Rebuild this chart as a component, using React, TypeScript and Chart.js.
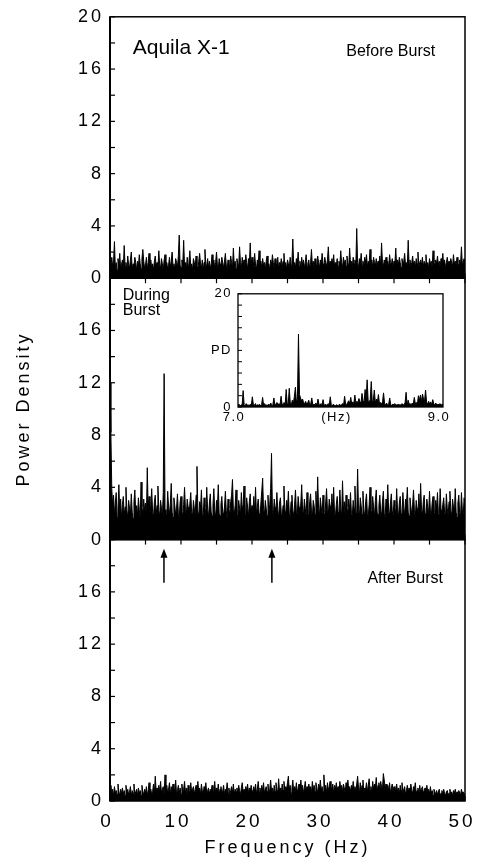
import React, { useEffect, useRef } from 'react';
import { Chart, registerables } from 'chart.js';

Chart.register(...registerables);

// ---------- data: power density, one value every FREQ_STEP Hz from 0 to 50 Hz ----------
const FREQ_STEP = 0.125;

const BEFORE_BURST = [
  1.1, 0.7, 1.6, 0.9, 1.3, 2.8, 0.8, 1.2, 0.6, 1.5, 1.0, 1.9, 0.7, 1.1, 1.4, 0.8,
  2.5, 0.9, 1.2, 0.6, 1.7, 1.0, 0.8, 1.4, 2.0, 0.7, 1.1, 0.9, 1.6, 1.2, 0.6, 1.3,
  0.9, 1.8, 1.1, 0.7, 1.5, 2.2, 1.3, 0.8, 1.0, 1.6, 0.7, 1.2, 1.9, 0.9, 1.4, 0.8,
  1.1, 0.6, 1.3, 1.7, 0.9, 1.2, 0.7, 2.1, 1.0, 0.8, 1.5, 1.1, 0.6, 1.4, 1.8, 0.9,
  1.2, 0.7, 1.0, 1.6, 0.8, 1.3, 2.0, 0.9, 1.1, 0.7, 1.5, 1.2, 0.8, 1.7, 3.3, 1.0,
  0.8, 1.4, 1.1, 2.9, 0.9, 1.2, 0.7, 1.6, 1.0, 1.3, 2.1, 0.8, 1.1, 0.6, 1.5, 1.2,
  0.9, 1.7, 1.0, 0.7, 1.3, 1.9, 1.1, 0.8, 1.4, 0.6, 1.2, 2.2, 0.9, 1.0, 1.5, 0.8,
  1.3, 0.7, 1.1, 1.8, 0.9, 1.4, 0.8, 1.2, 2.0, 1.0, 0.7, 1.5, 1.1, 0.9, 1.6, 1.2,
  0.8, 1.3, 1.9, 1.0, 0.7, 1.4, 1.1, 0.9, 1.7, 1.2, 0.8, 2.3, 1.0, 1.3, 0.7, 1.5,
  1.1, 0.9, 2.4, 1.2, 0.8, 1.6, 1.0, 1.4, 0.9, 1.8, 1.2, 0.7, 1.5, 1.1, 2.7, 1.0,
  1.6, 0.8, 1.2, 1.9, 1.0, 0.7, 1.4, 1.1, 2.1, 0.9, 1.3, 0.8, 1.5, 1.0, 1.2, 0.7,
  1.3, 1.7, 0.9, 1.1, 0.6, 1.4, 1.0, 1.8, 1.2, 0.8, 1.5, 0.9, 1.1, 1.6, 0.7, 1.2,
  1.0, 1.5, 0.8, 1.3, 1.9, 0.9, 1.2, 0.7, 1.4, 1.1, 0.8, 1.6, 1.0, 1.3, 3.0, 0.9,
  1.2, 0.8, 1.5, 1.1, 2.0, 0.9, 1.3, 0.7, 1.6, 1.0, 1.4, 0.8, 1.2, 1.8, 0.9, 1.1,
  1.4, 0.7, 1.2, 2.2, 1.0, 1.3, 0.8, 1.5, 1.1, 0.9, 1.7, 1.2, 0.8, 1.4, 1.0, 1.9,
  1.1, 0.8, 1.6, 1.2, 0.9, 1.4, 2.4, 1.0, 1.3, 0.7, 1.5, 1.1, 1.8, 0.9, 1.2, 1.0,
  1.5, 0.9, 1.3, 1.0, 2.1, 1.2, 0.8, 1.6, 1.1, 1.4, 0.9, 1.7, 1.2, 0.8, 2.3, 1.1,
  1.3, 0.9, 1.6, 1.1, 1.4, 1.0, 3.8, 1.2, 0.8, 1.5, 1.1, 1.9, 1.0, 1.3, 0.9, 1.6,
  1.2, 1.8, 0.9, 1.3, 1.1, 2.2, 1.0, 1.4, 0.8, 1.6, 1.2, 1.0, 1.5, 0.9, 1.3, 1.1,
  1.7, 1.0, 2.7, 1.2, 0.9, 1.4, 1.1, 1.6, 1.0, 1.3, 0.8, 1.8, 1.2, 1.0, 1.5, 0.9,
  1.3, 1.1, 2.3, 0.9, 1.4, 1.0, 1.6, 1.2, 0.8, 1.5, 1.1, 1.3, 1.9, 1.0, 1.2, 0.9,
  2.9, 1.1, 1.4, 0.9, 1.2, 1.7, 1.0, 1.3, 0.8, 1.5, 1.1, 2.0, 0.9, 1.2, 1.4, 1.0,
  1.6, 0.9, 1.3, 1.1, 1.8, 1.0, 1.2, 0.8, 1.5, 1.1, 1.3, 0.9, 2.1, 1.2, 1.0, 1.4,
  1.1, 1.7, 1.0, 1.3, 0.9, 1.5, 1.2, 1.9, 1.0, 1.4, 0.8, 1.2, 1.6, 1.1, 1.3, 1.0,
  1.5, 1.2, 0.9, 1.8, 1.1, 1.3, 1.0, 1.6, 1.2, 0.9, 1.4, 1.1, 2.4, 1.0, 1.3, 1.5,
  1.2,
];

const DURING_BURST = [
  12.0, 8.2, 3.9, 2.6, 3.4, 1.9, 2.8, 3.6, 1.7, 2.3, 4.2, 2.0, 3.1, 1.6, 2.7, 3.3,
  1.8, 2.5, 4.0, 2.2, 1.7, 3.0, 2.4, 1.9, 3.5, 2.1, 1.6, 2.9, 3.8, 2.0, 2.6, 1.8,
  3.2, 2.3, 1.7, 4.4, 2.5, 1.9, 3.1, 2.2, 2.8, 1.6, 5.5, 2.4, 3.3, 1.8, 2.6, 3.9,
  2.1, 1.7, 2.9, 3.4, 1.9, 2.6, 4.1, 2.2, 1.8, 3.0, 2.4, 1.7, 3.6, 12.7, 2.3, 2.0,
  1.8, 3.7, 2.5, 1.9, 2.8, 4.3, 2.1, 1.7, 3.2, 2.6, 1.9, 2.4, 3.5, 2.0, 1.6, 2.9,
  3.3, 2.2, 1.8, 2.7, 4.0, 2.3, 1.9, 3.1, 2.5, 1.7, 2.8, 3.6, 2.1, 1.8, 3.0, 2.4,
  1.9, 3.4, 5.6, 2.2, 1.7, 2.9, 2.4, 3.8, 2.0, 1.8, 3.2, 2.5, 1.9, 4.0, 2.3, 1.7,
  2.8, 3.5, 2.1, 1.8, 2.6, 3.9, 2.2, 1.7, 3.0, 2.4, 4.2, 2.0, 1.8, 2.7, 3.3, 2.1,
  1.9, 2.5, 3.7, 2.2, 1.6, 3.1, 2.4, 1.8, 2.9, 3.4, 4.6, 2.3, 1.9, 2.6, 3.8, 2.0,
  1.7, 3.0, 2.4, 1.9, 3.6, 2.2, 2.7, 4.1, 2.0, 1.8, 3.2, 2.5, 1.7, 2.9, 3.5, 2.1,
  2.6, 1.8, 3.3, 2.2, 4.0, 1.9, 2.5, 3.1, 2.0, 1.7, 2.8, 3.7, 4.7, 2.3, 1.9, 3.0,
  2.4, 1.8, 3.4, 2.1, 2.7, 3.9, 6.6, 2.2, 1.8, 3.1, 2.5, 1.9, 3.6, 2.3, 1.7, 2.8,
  3.2, 2.0, 1.8, 2.6, 4.1, 2.3, 1.9, 3.0, 2.4, 3.7, 2.0, 1.7, 2.9, 3.4, 2.2, 1.8,
  2.7, 3.8, 2.1, 1.9, 3.3, 2.5, 1.7, 2.8, 4.2, 2.2, 1.9, 3.1, 2.4, 1.8, 3.6, 2.0,
  1.8, 2.9, 3.5, 2.2, 1.7, 3.0, 2.6, 1.9, 3.7, 2.1, 4.8, 2.4, 1.8, 3.2, 2.5, 1.9,
  3.4, 2.1, 1.8, 2.8, 3.9, 2.3, 1.9, 3.1, 2.6, 1.7, 3.5, 2.2, 4.0, 2.0, 1.8, 2.7,
  3.3, 2.1, 1.9, 3.8, 2.4, 1.7, 4.5, 2.2, 2.9, 1.8, 3.4, 2.5, 1.9, 3.1, 2.2, 3.6,
  2.0, 1.8, 3.0, 2.4, 4.1, 2.1, 1.9, 5.4, 2.3, 1.7, 3.2, 2.6, 1.9, 3.7, 2.2, 1.8,
  2.9, 3.5, 2.0, 1.8, 2.7, 4.0, 2.3, 1.9, 3.3, 2.5, 1.7, 3.0, 3.8, 2.1, 1.9, 2.6,
  3.4, 2.2, 1.8, 2.9, 3.7, 2.0, 1.7, 3.1, 2.4, 4.2, 2.1, 1.9, 2.8, 3.5, 2.2, 1.8,
  3.0, 2.5, 1.9, 3.9, 2.2, 1.7, 2.8, 3.3, 2.0, 1.8, 3.6, 2.4, 1.9, 3.1, 2.6, 4.0,
  2.1, 1.8, 3.2, 2.5, 1.9, 2.7, 3.8, 2.2, 1.7, 3.0, 2.4, 1.9, 3.5, 2.1, 4.3, 2.3,
  1.8, 2.9, 3.4, 2.0, 1.7, 3.1, 2.5, 1.9, 3.7, 2.2, 1.8, 2.8, 3.3, 2.1, 1.9, 3.0,
  2.4, 3.6, 2.0, 1.8, 3.9, 2.3, 1.9, 2.7, 3.2, 2.1, 1.7, 3.5, 2.4, 1.9, 2.9, 3.7,
  2.2, 1.8, 3.1, 2.5, 1.9, 3.9, 2.1, 1.7, 2.8, 3.4, 2.0, 1.8, 3.6, 2.3, 1.9, 3.2,
  2.6,
];

const AFTER_BURST = [
  0.7, 1.2, 0.5, 0.9, 0.4, 1.1, 0.6, 0.8, 0.5, 1.3, 0.7, 0.4, 0.9, 0.6, 1.0, 0.5,
  0.8, 0.4, 1.2, 0.6, 0.9, 0.5, 0.7, 1.1, 0.4, 0.8, 0.6, 1.3, 0.5, 0.7, 0.9, 0.4,
  1.0, 0.6, 0.8, 0.4, 1.2, 0.7, 0.5, 0.9, 0.6, 1.1, 0.4, 0.8, 1.4, 0.6, 0.9, 0.5,
  0.7, 1.3, 0.6, 1.9, 0.8, 1.0, 0.5, 1.2, 0.7, 1.5, 0.6, 0.9, 1.1, 0.5, 2.0, 0.8,
  1.2, 0.6, 0.9, 1.4, 0.5, 1.1, 0.7, 1.3, 0.6, 0.9, 1.6, 0.5, 0.8, 1.2, 0.6, 1.0,
  0.5, 1.3, 0.7, 0.9, 1.5, 0.6, 1.0, 0.4, 1.2, 0.8, 0.6, 1.4, 0.7, 0.9, 1.1, 0.5,
  0.9, 1.2, 0.6, 1.5, 0.7, 1.0, 0.5, 1.3, 0.8, 0.6, 1.1, 0.9, 1.4, 0.6, 0.8, 1.0,
  0.5, 0.9, 0.7, 1.2, 0.4, 0.8, 1.5, 0.6, 1.0, 0.7, 1.3, 0.5, 0.9, 1.1, 0.6, 0.8,
  1.2, 0.5, 0.9, 0.7, 1.4, 0.6, 1.0, 0.4, 0.8, 1.1, 0.6, 1.3, 0.5, 0.9, 0.7, 1.0,
  0.6, 1.2, 0.8, 0.5, 1.0, 1.4, 0.7, 0.9, 0.5, 1.1, 0.8, 1.3, 0.6, 1.0, 0.7, 1.2,
  0.8, 0.5, 1.1, 0.7, 1.3, 0.6, 0.9, 1.5, 0.7, 1.0, 0.5, 1.2, 0.8, 1.4, 0.6, 0.9,
  1.1, 0.7, 1.3, 0.6, 0.9, 1.6, 0.8, 1.0, 0.5, 1.2, 0.7, 1.4, 0.9, 0.6, 1.7, 0.8,
  1.0, 0.6, 1.3, 0.8, 1.5, 0.7, 1.1, 0.9, 1.4, 1.9, 0.8, 1.2, 0.6, 1.0, 1.6, 0.7,
  1.1, 0.8, 1.4, 0.6, 1.0, 1.3, 0.7, 1.6, 0.9, 1.2, 0.6, 1.0, 1.5, 0.8, 1.1, 0.7,
  1.3, 0.9, 1.1, 0.6, 1.5, 0.8, 1.2, 0.7, 1.4, 1.0, 0.6, 1.3, 0.9, 1.6, 0.8, 1.1,
  0.7, 2.0, 0.9, 1.2, 0.6, 1.4, 0.8, 1.1, 1.5, 0.7, 1.0, 1.3, 0.6, 1.2, 0.9, 1.4,
  0.8, 1.1, 0.6, 1.5, 0.9, 1.2, 0.7, 1.3, 1.0, 0.6, 1.4, 0.8, 1.6, 0.9, 1.1, 0.7,
  1.2, 0.8, 1.5, 0.9, 1.1, 0.7, 1.3, 1.9, 1.0, 0.6, 1.4, 0.8, 1.2, 1.6, 0.7, 1.0,
  0.9, 1.4, 0.7, 1.2, 1.7, 0.8, 1.1, 0.6, 1.5, 0.9, 1.3, 1.0, 1.8, 0.7, 1.2, 1.4,
  0.8, 1.5, 1.1, 0.9, 2.1, 1.6, 1.0, 1.3, 0.7, 1.2, 0.8, 1.4, 0.6, 1.0, 1.3, 0.7,
  1.1, 0.6, 0.9, 1.3, 0.7, 1.0, 0.5, 1.2, 0.8, 1.4, 0.6, 0.9, 1.1, 0.5, 0.8, 1.2,
  0.7, 1.0, 0.5, 1.3, 0.8, 0.6, 1.1, 0.9, 1.4, 0.6, 0.8, 1.0, 0.5, 1.2, 0.7, 0.9,
  1.1, 0.6, 0.8, 1.0, 0.5, 1.2, 0.7, 0.9, 0.5, 1.1, 0.6, 0.8, 0.4, 0.9, 0.7, 0.5,
  0.8, 0.5, 0.7, 0.9, 0.4, 0.6, 0.8, 0.5, 0.9, 0.6, 0.4, 0.7, 0.8, 0.5, 0.6, 0.9,
  0.5, 0.7, 0.4, 0.8, 0.6, 0.9, 0.5, 0.7, 0.4, 0.8, 0.6, 0.5, 0.9, 0.6, 0.7, 0.5,
  0.6,
];

// inset: during burst, 7.0 - 9.0 Hz, one value every INSET_STEP Hz
const INSET_START = 7.0;
const INSET_STEP = 0.01;
const INSET_DURING = [
  0.3, 0.5, 0.2, 0.4, 0.3, 2.9, 0.4, 0.2, 0.6, 0.3,
  0.4, 0.2, 0.5, 0.3, 1.8, 0.4, 0.3, 0.6, 0.2, 0.4,
  0.3, 0.5, 0.2, 0.4, 1.7, 0.3, 0.6, 0.2, 0.4, 0.3,
  0.5, 0.3, 0.7, 0.2, 0.4, 1.6, 0.3, 0.5, 0.8, 0.4,
  0.6, 0.3, 1.9, 0.5, 0.4, 0.8, 0.3, 3.1, 0.6, 0.5,
  3.3, 0.7, 0.4, 1.2, 0.6, 1.9, 3.5, 0.8, 1.4, 12.9,
  2.2, 1.6, 1.1, 1.4, 0.8, 0.6, 1.0, 0.5, 0.7, 1.2,
  0.4, 0.6, 1.6, 0.3, 0.5, 0.4, 0.7, 0.3, 1.4, 0.5,
  0.3, 0.6, 0.4, 1.3, 0.2, 0.5, 0.3, 0.4, 0.6, 0.3,
  1.8, 0.4, 0.2, 0.5, 0.3, 0.2, 0.4, 0.3, 0.2, 0.5,
  0.3, 0.4, 0.6, 0.3, 1.9, 0.5, 0.4, 0.8, 1.1, 0.6,
  1.7, 0.5, 0.9, 0.6, 2.1, 0.7, 1.0, 0.8, 1.5, 0.9,
  0.7, 2.4, 1.1, 0.8, 3.1, 1.3, 4.8, 1.0, 0.9, 1.3,
  4.5, 0.8, 1.2, 3.0, 0.7, 1.4, 0.9, 2.2, 0.6, 0.8,
  0.5, 0.9, 2.5, 0.6, 0.4, 0.7, 0.3, 0.5, 1.6, 0.4,
  0.3, 0.5, 0.4, 0.6, 0.3, 0.4, 0.4, 0.5, 0.3, 0.4,
  0.6, 0.3, 0.5, 0.7, 2.6, 0.3, 1.2, 0.5, 0.6, 0.4,
  0.7, 0.5, 1.7, 0.6, 0.8, 0.5, 2.0, 1.2, 2.1, 0.9,
  2.3, 1.4, 1.1, 3.0, 0.8, 0.6, 1.0, 0.5, 0.9, 0.4,
  1.3, 0.6, 0.4, 0.7, 0.3, 0.5, 0.4, 0.6, 0.3, 0.5,
  0.4,
];

// tick labels
const X_LABEL_VALUES = [0, 10, 20, 30, 40, 50];
const Y_LABEL_VALUES_TOP = [0, 4, 8, 12, 16, 20];
const Y_LABEL_VALUES_LOWER = [0, 4, 8, 12, 16];
const INSET_Y_TICK_VALUES = [0, 10, 20];
const INSET_Y_TICK_TEXT = ['0', 'PD', '20'];
const INSET_X_TICK_VALUES = [7, 8, 9];
const INSET_X_TICK_TEXT = ['7.0', '(Hz)', '9.0'];

// frequencies marked by arrows under the "during burst" panel
const ARROW_FREQS = [7.6, 22.8];

const FONT = "'Liberation Sans', Arial, Helvetica, sans-serif";
const INK = '#000';

const toPoints = (vals: number[], start: number, step: number) =>
  vals.map((v, i) => ({ x: Math.round((start + i * step) * 1000) / 1000, y: v }));

const spectrumDataset = (vals: number[], axis: string) => ({
  data: toPoints(vals, 0, FREQ_STEP),
  yAxisID: axis,
  borderColor: INK,
  backgroundColor: INK,
  borderWidth: 1,
  fill: 'origin',
  pointRadius: 0,
  tension: 0,
});

const panelAxis = (labels: number[], weight: number, extra: any = {}) => ({
  type: 'linear',
  position: 'left',
  stack: 'panels',
  stackWeight: 1,
  weight,
  min: 0,
  max: 20,
  grid: { display: false, drawTicks: false },
  border: { display: false },
  ticks: {
    stepSize: 2,
    autoSkip: false,
    padding: 6,
    color: INK,
    font: { family: FONT, size: 18 },
    callback: (v: number) => (labels.includes(v) ? String(v) : ''),
  },
  afterFit: (s: any) => {
    s.width = 110;
  },
  ...extra,
});

const line = (ctx: CanvasRenderingContext2D, x1: number, y1: number, x2: number, y2: number) => {
  ctx.beginPath();
  ctx.moveTo(x1, y1);
  ctx.lineTo(x2, y2);
  ctx.stroke();
};

const ANNOTATIONS = [
  { axis: 'yTop', lines: ['Aquila X-1'], x: 3.2, y: 17.6, align: 'left', size: 21 },
  { axis: 'yTop', lines: ['Before Burst'], x: 45.8, y: 17.3, align: 'right', size: 16 },
  { axis: 'yMid', lines: ['During', 'Burst'], x: 1.8, y: 18.7, align: 'left', size: 16 },
  { axis: 'yBot', lines: ['After Burst'], x: 46.9, y: 17.0, align: 'right', size: 16 },
];

const mainPlugin = {
  id: 'panelFrames',
  beforeDraw(chart: any) {
    chart.ctx.letterSpacing = '3px';
  },
  beforeDatasetsDraw(chart: any) {
    chart.ctx.letterSpacing = '0px';
  },
  afterDraw(chart: any) {
    const { ctx, chartArea, scales } = chart;
    const x = scales.x;
    const ids = ['yTop', 'yMid', 'yBot'];
    ctx.save();
    ctx.letterSpacing = '0px';
    ctx.strokeStyle = INK;
    ctx.fillStyle = INK;
    ids.forEach((id, k) => {
      const y = scales[id];
      ctx.lineWidth = 1.5;
      ctx.strokeRect(chartArea.left, y.top, chartArea.right - chartArea.left, y.bottom - y.top);
      ctx.lineWidth = 1.2;
      for (const t of y.ticks) {
        const py = y.getPixelForValue(t.value);
        line(ctx, chartArea.left, py, chartArea.left + 5, py);
      }
      for (const t of x.ticks) {
        const px = x.getPixelForValue(t.value);
        line(ctx, px, y.bottom, px, y.bottom - 5);
        if (k > 0) line(ctx, px, y.top, px, y.top + 5);
      }
    });
    ctx.lineWidth = 2;
    line(ctx, chartArea.left, chartArea.top, chartArea.left, chartArea.bottom);

    // panel annotations
    ctx.textBaseline = 'middle';
    for (const a of ANNOTATIONS) {
      const y = scales[a.axis];
      ctx.font = `${a.size}px ${FONT}`;
      ctx.textAlign = a.align;
      const px = x.getPixelForValue(a.x);
      const py = y.getPixelForValue(a.y);
      a.lines.forEach((s, i) => ctx.fillText(s, px, py + i * a.size * 0.95));
    }

    // arrows
    const yb = scales.yBot;
    ctx.lineWidth = 1.5;
    for (const f of ARROW_FREQS) {
      const px = x.getPixelForValue(f);
      const tip = yb.getPixelForValue(19.3);
      const tail = yb.getPixelForValue(16.7);
      line(ctx, px, tail, px, tip + 6);
      ctx.beginPath();
      ctx.moveTo(px, tip);
      ctx.lineTo(px - 3.5, tip + 9);
      ctx.lineTo(px + 3.5, tip + 9);
      ctx.closePath();
      ctx.fill();
    }
    ctx.restore();
  },
};

const insetPlugin = {
  id: 'insetFrame',
  beforeDraw(chart: any) {
    chart.ctx.letterSpacing = '1.5px';
  },
  beforeDatasetsDraw(chart: any) {
    chart.ctx.letterSpacing = '0px';
  },
  afterDraw(chart: any) {
    const { ctx, chartArea, scales } = chart;
    const y = scales.y;
    ctx.save();
    ctx.strokeStyle = INK;
    ctx.lineWidth = 1.3;
    ctx.strokeRect(chartArea.left, chartArea.top, chartArea.right - chartArea.left, chartArea.bottom - chartArea.top);
    ctx.lineWidth = 1;
    for (const t of y.ticks) {
      const py = y.getPixelForValue(t.value);
      line(ctx, chartArea.left, py, chartArea.left + 4, py);
    }
    ctx.restore();
  },
};

function mainConfig(): any {
  return {
    type: 'line',
    data: {
      datasets: [
        spectrumDataset(BEFORE_BURST, 'yTop'),
        spectrumDataset(DURING_BURST, 'yMid'),
        spectrumDataset(AFTER_BURST, 'yBot'),
      ],
    },
    options: {
      responsive: false,
      animation: false,
      events: [],
      layout: { padding: { top: 13, right: 20, bottom: 0, left: 0 } },
      plugins: { legend: { display: false }, tooltip: { enabled: false } },
      scales: {
        x: {
          type: 'linear',
          position: 'bottom',
          min: 0,
          max: 50,
          grid: { display: false, drawTicks: false },
          border: { display: false },
          ticks: {
            stepSize: 5,
            autoSkip: false,
            maxRotation: 0,
            padding: 9,
            labelOffset: -3,
            color: INK,
            font: { family: FONT, size: 19 },
            callback: (v: number) => (X_LABEL_VALUES.includes(v) ? String(v) : ''),
          },
          title: {
            display: true,
            text: 'Frequency (Hz)',
            color: INK,
            font: { family: FONT, size: 18 },
            padding: { top: 0, bottom: 4 },
          },
          afterFit: (s: any) => {
            s.height = 62;
          },
        },
        yTop: panelAxis(Y_LABEL_VALUES_TOP, 3),
        yMid: panelAxis(Y_LABEL_VALUES_LOWER, 2, {
          title: {
            display: true,
            text: 'Power Density',
            color: INK,
            font: { family: FONT, size: 18 },
            padding: { top: 13, bottom: 0 },
          },
        }),
        yBot: panelAxis(Y_LABEL_VALUES_LOWER, 1),
      },
    },
    plugins: [mainPlugin],
  };
}

function insetConfig(): any {
  return {
    type: 'line',
    data: {
      datasets: [
        {
          data: toPoints(INSET_DURING, INSET_START, INSET_STEP),
          borderColor: INK,
          backgroundColor: INK,
          borderWidth: 1,
          fill: 'origin',
          pointRadius: 0,
          tension: 0,
        },
      ],
    },
    options: {
      responsive: false,
      animation: false,
      events: [],
      layout: { padding: { top: 8, right: 17, bottom: 0, left: 0 } },
      plugins: { legend: { display: false }, tooltip: { enabled: false } },
      scales: {
        x: {
          type: 'linear',
          min: 7,
          max: 9,
          grid: { display: false, drawTicks: false },
          border: { display: false },
          ticks: {
            stepSize: 1,
            autoSkip: false,
            maxRotation: 0,
            padding: 3,
            labelOffset: -4,
            color: INK,
            font: { family: FONT, size: 13 },
            callback: (v: number) => {
              const i = INSET_X_TICK_VALUES.indexOf(v);
              return i >= 0 ? INSET_X_TICK_TEXT[i] : '';
            },
          },
          afterFit: (s: any) => {
            s.height = 23;
          },
        },
        y: {
          type: 'linear',
          min: 0,
          max: 20,
          grid: { display: false, drawTicks: false },
          border: { display: false },
          ticks: {
            stepSize: 2,
            autoSkip: false,
            padding: 6,
            color: INK,
            font: { family: FONT, size: 13 },
            callback: (v: number) => {
              const i = INSET_Y_TICK_VALUES.indexOf(v);
              return i >= 0 ? INSET_Y_TICK_TEXT[i] : '';
            },
          },
          afterFit: (s: any) => {
            s.width = 38;
          },
        },
      },
    },
    plugins: [insetPlugin],
  };
}

export default function App() {
  const mainRef = useRef<HTMLCanvasElement>(null);
  const insetRef = useRef<HTMLCanvasElement>(null);

  useEffect(() => {
    const main = new Chart(mainRef.current as HTMLCanvasElement, mainConfig());
    const inset = new Chart(insetRef.current as HTMLCanvasElement, insetConfig());
    return () => {
      main.destroy();
      inset.destroy();
    };
  }, []);

  return (
    <div style={{ position: 'fixed', left: 0, top: 0, width: 485, height: 863, background: '#fff' }}>
      <canvas ref={mainRef} width={485} height={863} style={{ position: 'absolute', left: 0, top: 0 }} />
      <canvas ref={insetRef} width={260} height={150} style={{ position: 'absolute', left: 200, top: 280 }} />
    </div>
  );
}
